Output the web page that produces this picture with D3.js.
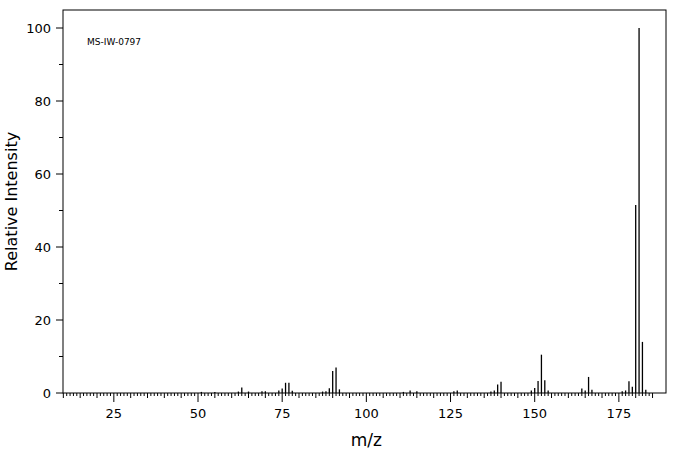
<!DOCTYPE html>
<html><head><meta charset="utf-8">
<script src="https://cdn.jsdelivr.net/npm/d3@7"></script>
<style>body{margin:0;background:#fff}text{font-family:"DejaVu Sans",sans-serif}</style>
</head><body><div id="chart"></div>
<script>
// m/z and relative intensity
const mz = [51,55,62,63,65,69,70,74,75,76,77,78,87,88,89,90,91,92,
  111,113,115,126,127,137,138,139,140,149,150,151,152,153,154,
  164,165,166,167,176,177,178,179,180,181,182,183];
const intensity = [0.3,0.3,0.4,1.5,0.4,0.5,0.5,0.7,1.2,2.8,2.8,0.6,0.4,0.5,1.3,6,7,1,
  0.3,0.7,0.5,0.5,0.7,0.4,0.7,2.3,3.1,0.7,1.4,3.3,10.5,3.5,0.7,
  1.2,0.7,4.4,0.9,0.5,0.7,3.2,1.7,51.5,100,14,0.9];
const xTicks = [25,50,75,100,125,150,175];
const yTicks = [0,20,40,60,80,100];

const W = 676, H = 455;
const m = {left: 63, right: 10, top: 10, bottom: 62};
const svg = d3.select("#chart").append("svg").attr("width", W).attr("height", H);

const x = d3.scaleLinear().domain([9.9, 189]).range([m.left, W - m.right]);
const y = d3.scaleLinear().domain([0, 100]).range([393, 28]);

// frame
svg.append("rect").attr("x", m.left).attr("y", m.top)
  .attr("width", W - m.right - m.left).attr("height", 393 - m.top)
  .attr("fill", "none").attr("stroke", "#000");

// x ticks: every unit, longer every 5, longest every 25
const g = svg.append("g");
for (let v = 10; v <= 185; v++) {
  const len = v % 25 === 0 ? 9 : v % 5 === 0 ? 5 : 3;
  g.append("line").attr("x1", x(v)).attr("x2", x(v))
    .attr("y1", 393).attr("y2", 393 + len).attr("stroke", "#000");
}
g.selectAll(".xl").data(xTicks).join("text")
  .attr("x", d => x(d)).attr("y", 418).attr("text-anchor", "middle")
  .attr("font-size", 13).text(d => d);

// y ticks
for (let v = 0; v <= 100; v += 10) {
  const len = v % 20 === 0 ? 7 : 4;
  g.append("line").attr("x1", m.left - len).attr("x2", m.left)
    .attr("y1", y(v)).attr("y2", y(v)).attr("stroke", "#000");
}
g.selectAll(".yl").data(yTicks).join("text")
  .attr("x", m.left - 12).attr("y", d => y(d) + 5).attr("text-anchor", "end")
  .attr("font-size", 13).text(d => d);

// peaks
svg.selectAll(".pk").data(mz).join("line")
  .attr("x1", d => x(d)).attr("x2", d => x(d))
  .attr("y1", y(0)).attr("y2", (d, i) => y(intensity[i]))
  .attr("stroke", "#000").attr("stroke-width", 1.3);

// labels
svg.append("text").attr("x", x(100)).attr("y", 446).attr("text-anchor", "middle")
  .attr("font-size", 17).text("m/z");
svg.append("text").attr("transform", `translate(17,${(10 + 393) / 2}) rotate(-90)`)
  .attr("text-anchor", "middle").attr("font-size", 16).text("Relative Intensity");
svg.append("text").attr("x", 87).attr("y", 45).attr("font-size", 9)
  .attr("font-family", "DejaVu Sans Mono").text("MS-IW-0797");
</script></body></html>
